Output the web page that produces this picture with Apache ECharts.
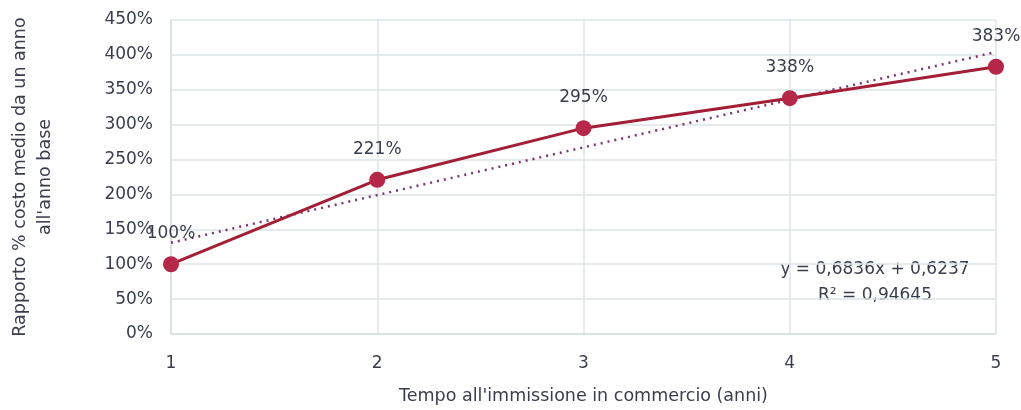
<!DOCTYPE html>
<html>
<head>
<meta charset="utf-8">
<script src="https://cdn.jsdelivr.net/npm/echarts@6/dist/echarts.min.js"></script>
<style>html,body{margin:0;padding:0;background:#fff}#c{width:1021px;height:410px}</style>
</head>
<body>
<div id="c"></div>
<script>
const years = [1, 2, 3, 4, 5];
const ratioPct = [100, 221, 295, 338, 383];
const trendX = [1, 5];
const trendPct = [130.73, 404.17];
const eqLine1 = 'y = 0,6836x + 0,6237';
const eqLine2 = 'R² = 0,94645';
const yTitle = ["Rapporto % costo medio da un anno", "all'anno base"];
const xTitle = "Tempo all'immissione in commercio (anni)";

const FONT = 'DejaVu Sans';
const TXT = '#3a3e4c';
const chart = echarts.init(document.getElementById('c'));
chart.setOption({
  animation: false,
  textStyle: { fontFamily: FONT },
  grid: { left: 171, right: 25, top: 20, bottom: 76 },
  xAxis: {
    type: 'value', min: 1, max: 5, interval: 1,
    axisLine: { show: true, lineStyle: { color: '#d6dfe0', width: 1.5 } },
    axisTick: { show: false },
    splitLine: { show: true, lineStyle: { color: '#dde5e6', width: 1.5 } },
    axisLabel: { color: TXT, fontSize: 17, margin: 21, fontFamily: FONT },
    name: xTitle, nameLocation: 'middle', nameGap: 53,
    nameTextStyle: { color: TXT, fontSize: 17.5, fontFamily: FONT }
  },
  yAxis: {
    type: 'value', min: 0, max: 450, interval: 50,
    axisLine: { show: true, lineStyle: { color: '#d6dfe0', width: 1.5 } },
    axisTick: { show: false },
    splitLine: { show: true, lineStyle: { color: '#dde5e6', width: 1.5 } },
    axisLabel: { formatter: '{value}%', color: TXT, fontSize: 17, margin: 18, fontFamily: FONT }
  },
  graphic: [
    { type: 'text', rotation: Math.PI / 2, style: { text: yTitle[0], fill: TXT, font: '17.5px ' + FONT, textAlign: 'center', textVerticalAlign: 'middle' }, x: 20, y: 177 },
    { type: 'text', rotation: Math.PI / 2, style: { text: yTitle[1], fill: TXT, font: '17.5px ' + FONT, textAlign: 'center', textVerticalAlign: 'middle' }, x: 45, y: 177 },
    { type: 'text', style: { text: eqLine1, fill: TXT, font: '17px ' + FONT, textAlign: 'center', textVerticalAlign: 'middle' }, x: 875, y: 270 },
    { type: 'text', style: { text: eqLine2, fill: TXT, font: '17px ' + FONT, textAlign: 'center', textVerticalAlign: 'middle' }, x: 875, y: 296 }
  ],
  series: [
    {
      type: 'line',
      data: trendX.map((x, i) => [x, trendPct[i]]),
      showSymbol: false, symbol: 'none',
      lineStyle: { color: '#7a3470', width: 2.5, type: [2, 5] },
      z: 3
    },
    {
      type: 'line',
      data: years.map((x, i) => [x, ratioPct[i]]),
      symbol: 'circle', symbolSize: 16,
      itemStyle: { color: '#b5284a' },
      lineStyle: { color: '#a31f35', width: 3 },
      label: { show: true, position: 'top', distance: 14, formatter: p => p.value[1] + '%', color: TXT, fontSize: 17, fontFamily: FONT },
      z: 4
    }
  ]
});
</script>
</body>
</html>
